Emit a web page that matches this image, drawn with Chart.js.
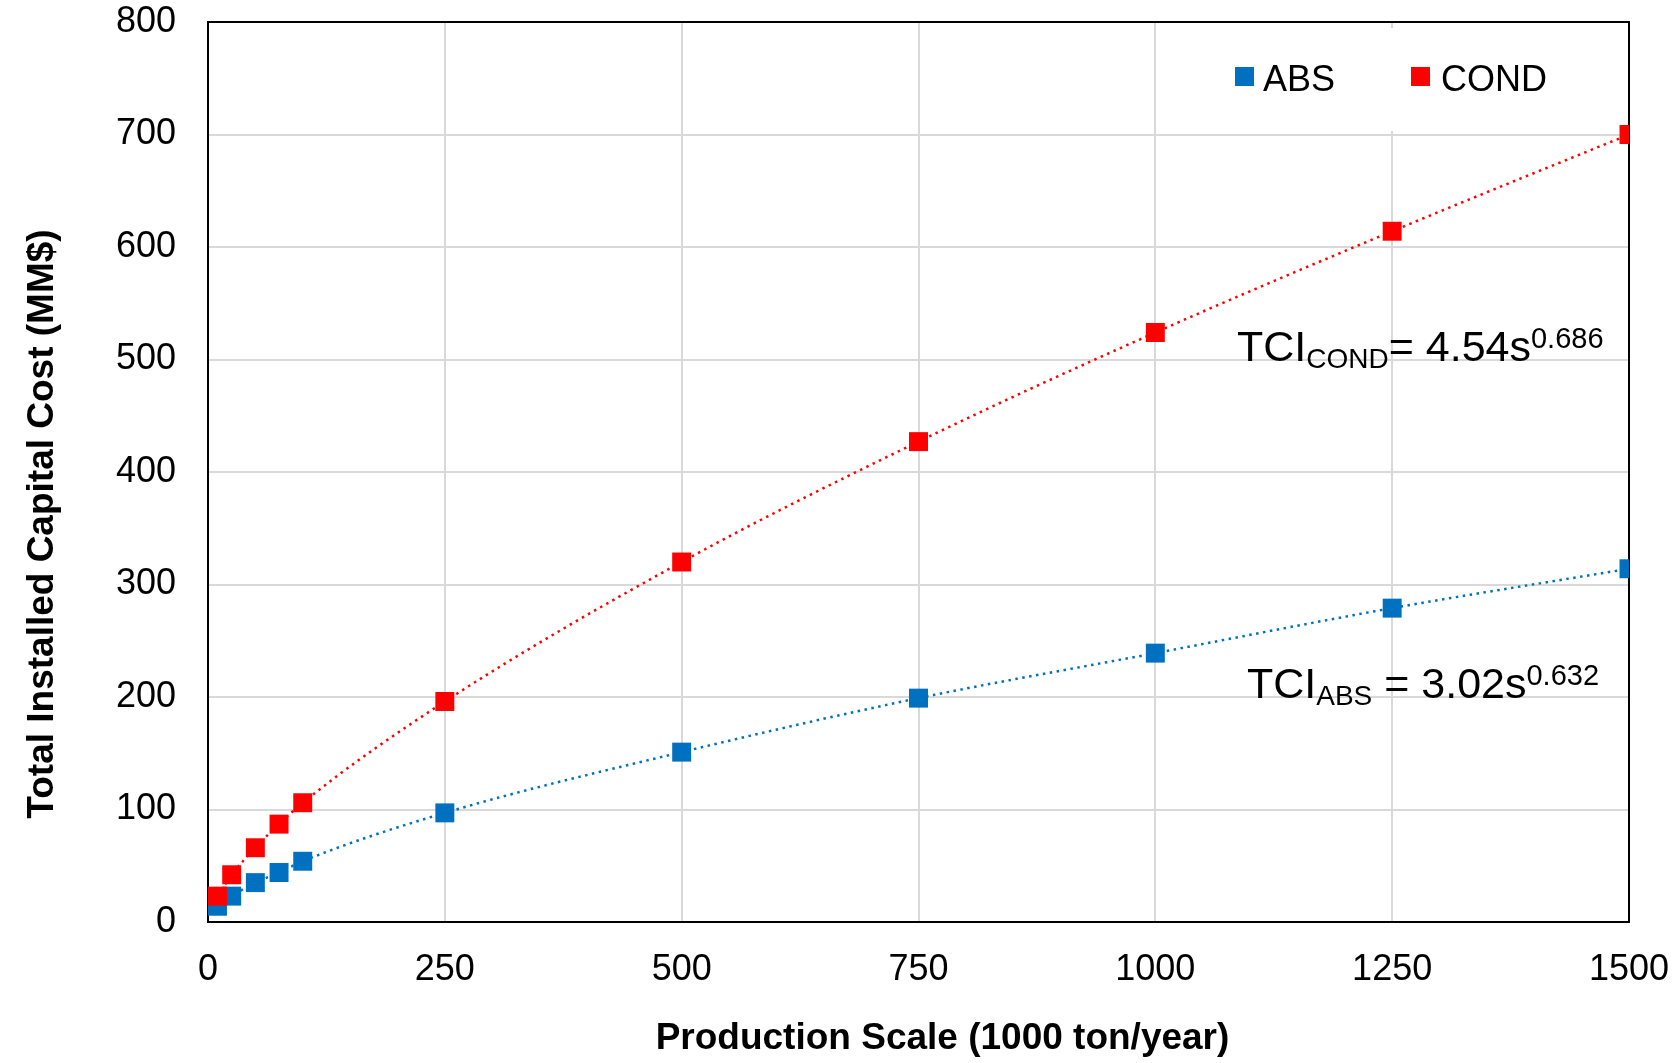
<!DOCTYPE html>
<html>
<head>
<meta charset="utf-8">
<script src="https://cdn.jsdelivr.net/npm/chart.js@4.4.1/dist/chart.umd.min.js"></script>
<style>
  html, body { margin: 0; padding: 0; background: #fff; }
  #wrap { width: 1677px; height: 1063px; position: relative; }
</style>
</head>
<body>
<div id="wrap"><canvas id="chart" width="1677" height="1063"></canvas></div>
<script>
const scale = [10, 25, 50, 75, 100, 250, 500, 750, 1000, 1250, 1500];
const absCost = [14, 23, 35, 44, 54, 97, 151, 199, 239, 279, 314];
const condCost = [23, 42, 66, 87, 106, 196, 320, 427, 524, 614, 700];
const xTicks = [0, 250, 500, 750, 1000, 1250, 1500];
const yTicks = [0, 100, 200, 300, 400, 500, 600, 700, 800];
const xTitle = "Production Scale (1000 ton/year)";
const yTitle = "Total Installed Capital Cost (MM$)";

const BLUE = "#0070c0";
const RED = "#ff0000";
const FONT = "'Liberation Sans', Arial, sans-serif";

const toPoints = (ys) => scale.map((x, i) => ({ x: x, y: ys[i] }));

// legend box, plot frame, axis titles and the two fit equations
const extras = {
  id: "extras",
  beforeDatasetsDraw(chart) {
    const { ctx, chartArea: a } = chart;
    ctx.save();
    ctx.fillStyle = "#fff";
    ctx.fillRect(a.right - 470, a.top + 6, 468, 103);
    ctx.strokeStyle = "#000";
    ctx.lineWidth = 2;
    ctx.strokeRect(a.left, a.top, a.right - a.left, a.bottom - a.top);
    ctx.restore();
  },
  afterDraw(chart) {
    const { ctx, chartArea: a } = chart;
    ctx.save();
    ctx.textBaseline = "alphabetic";

    // axis titles (sit a little off-centre in the original)
    ctx.fillStyle = "#000";
    ctx.font = "bold 37px " + FONT;
    ctx.textAlign = "center";
    ctx.fillText(xTitle, (a.left + a.right) / 2 + 24, a.bottom + 127);
    ctx.save();
    ctx.translate(53, (a.top + a.bottom) / 2 + 52);
    ctx.rotate(-Math.PI / 2);
    ctx.fillText(yTitle, 0, 0);
    ctx.restore();
    ctx.textAlign = "left";

    // legend
    const ly = a.top + 45;
    ctx.fillStyle = BLUE;
    ctx.fillRect(a.right - 394, ly, 19, 19);
    ctx.fillStyle = RED;
    ctx.fillRect(a.right - 218, ly, 19, 19);
    ctx.fillStyle = "#000";
    ctx.font = "36px " + FONT;
    ctx.fillText("ABS", a.right - 366, ly + 24);
    ctx.fillText("COND", a.right - 188, ly + 24);

    function eq(x, y, sub, rest, sup) {
      ctx.font = "43px " + FONT;
      ctx.fillText("TCI", x, y);
      x += ctx.measureText("TCI").width;
      ctx.font = "28px " + FONT;
      ctx.fillText(sub, x, y + 7);
      x += ctx.measureText(sub).width;
      ctx.font = "43px " + FONT;
      ctx.fillText(rest, x, y);
      x += ctx.measureText(rest).width;
      ctx.font = "29px " + FONT;
      ctx.fillText(sup, x, y - 13);
    }
    eq(1237, 361, "COND", "= 4.54s", "0.686");
    eq(1247, 698, "ABS", " = 3.02s", "0.632");
    ctx.restore();
  },
};

new Chart(document.getElementById("chart"), {
  type: "scatter",
  data: {
    datasets: [
      {
        label: "ABS",
        data: toPoints(absCost),
        order: 2,
        showLine: true,
        borderColor: BLUE,
        backgroundColor: BLUE,
        borderWidth: 2.5,
        borderDash: [2.5, 4.5],
        cubicInterpolationMode: "monotone",
        pointStyle: "rect",
        pointRadius: 13.4,
        pointBorderWidth: 0,
      },
      {
        label: "COND",
        data: toPoints(condCost),
        order: 1,
        showLine: true,
        borderColor: RED,
        backgroundColor: RED,
        borderWidth: 2.5,
        borderDash: [2.5, 4.5],
        cubicInterpolationMode: "monotone",
        pointStyle: "rect",
        pointRadius: 13.4,
        pointBorderWidth: 0,
      },
    ],
  },
  options: {
    responsive: false,
    animation: false,
    layout: { padding: { left: 0, right: 48, top: 22, bottom: 0 } },
    plugins: { legend: { display: false }, tooltip: { enabled: false } },
    scales: {
      x: {
        type: "linear",
        min: 0,
        max: 1500,
        afterBuildTicks: (s) => { s.ticks = xTicks.map((v) => ({ value: v })); },
        afterFit: (s) => {
          s.height = 141;
          s.paddingLeft = 0;
          s.paddingRight = 0;
        },
        grid: { color: "#d9d9d9", lineWidth: 2, drawTicks: false },
        border: { color: "#000", width: 2 },
        ticks: { color: "#000", font: { family: FONT, size: 36 }, padding: 26, maxRotation: 0, callback: (v) => String(v) },
        title: { display: false },
      },
      y: {
        min: 0,
        max: 800,
        afterBuildTicks: (s) => { s.ticks = yTicks.map((v) => ({ value: v })); },
        afterFit: (s) => {
          s.width = 208;
          s.paddingTop = 0;
          s.paddingBottom = 0;
        },
        grid: { color: "#d9d9d9", lineWidth: 2, drawTicks: false },
        border: { color: "#000", width: 2 },
        ticks: { color: "#000", font: { family: FONT, size: 36 }, padding: 32, callback: (v) => String(v) },
        title: { display: false },
      },
    },
  },
  plugins: [extras],
});
</script>
</body>
</html>
